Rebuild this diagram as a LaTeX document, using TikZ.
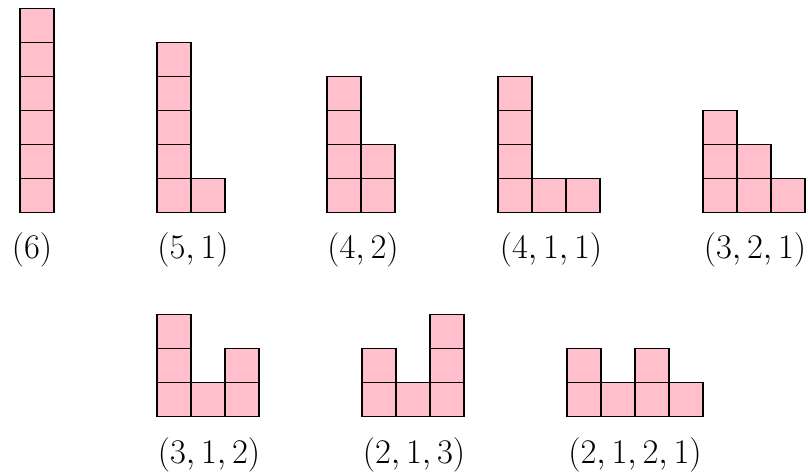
\documentclass[tikz,border=0pt]{standalone}
\definecolor{cellpink}{RGB}{255,192,203}
\begin{document}
\begin{tikzpicture}[x=0.5pt,y=-0.5pt,every node/.style={outer sep=0pt, font=\fontsize{17.28}{21}\selectfont},
  cell/.style={draw=black, line width=0.7pt, fill=cellpink, minimum size=17pt, inner sep=0pt},
  lbl/.style={anchor=base, inner sep=0pt}]
\useasboundingbox (0,0) rectangle (808,476);
% (6)
\node[cell] (a11) at (37,195.5) {};
\node[cell] (a12) at (37,161.5) {};
\node[cell] (a13) at (37,127.5) {};
\node[cell] (a14) at (37,93.5) {};
\node[cell] (a15) at (37,59.5) {};
\node[cell] (a16) at (37,25.5) {};
\node[lbl] (la) at (32,258) {$(6)$};
% (5,1)
\node[cell] (b11) at (174,195.5) {};
\node[cell] (b12) at (174,161.5) {};
\node[cell] (b13) at (174,127.5) {};
\node[cell] (b14) at (174,93.5) {};
\node[cell] (b15) at (174,59.5) {};
\node[cell] (b21) at (208,195.5) {};
\node[lbl] (lb) at (193,258) {$(5,1)$};
% (4,2)
\node[cell] (c11) at (344,195.5) {};
\node[cell] (c12) at (344,161.5) {};
\node[cell] (c13) at (344,127.5) {};
\node[cell] (c14) at (344,93.5) {};
\node[cell] (c21) at (378,195.5) {};
\node[cell] (c22) at (378,161.5) {};
\node[lbl] (lc) at (363,258) {$(4,2)$};
% (4,1,1)
\node[cell] (d11) at (515,195.5) {};
\node[cell] (d12) at (515,161.5) {};
\node[cell] (d13) at (515,127.5) {};
\node[cell] (d14) at (515,93.5) {};
\node[cell] (d21) at (549,195.5) {};
\node[cell] (d31) at (583,195.5) {};
\node[lbl] (ld) at (551,258) {$(4,1,1)$};
% (3,2,1)
\node[cell] (e11) at (720,195.5) {};
\node[cell] (e12) at (720,161.5) {};
\node[cell] (e13) at (720,127.5) {};
\node[cell] (e21) at (754,195.5) {};
\node[cell] (e22) at (754,161.5) {};
\node[cell] (e31) at (788,195.5) {};
\node[lbl] (le) at (755,258) {$(3,2,1)$};
% (3,1,2)
\node[cell] (f11) at (174,399.5) {};
\node[cell] (f12) at (174,365.5) {};
\node[cell] (f13) at (174,331.5) {};
\node[cell] (f21) at (208,399.5) {};
\node[cell] (f31) at (242,399.5) {};
\node[cell] (f32) at (242,365.5) {};
\node[lbl] (lf) at (209,463) {$(3,1,2)$};
% (2,1,3)
\node[cell] (g11) at (379,399.5) {};
\node[cell] (g12) at (379,365.5) {};
\node[cell] (g21) at (413,399.5) {};
\node[cell] (g31) at (447,399.5) {};
\node[cell] (g32) at (447,365.5) {};
\node[cell] (g33) at (447,331.5) {};
\node[lbl] (lg) at (414,463) {$(2,1,3)$};
% (2,1,2,1)
\node[cell] (h11) at (584,399.5) {};
\node[cell] (h12) at (584,365.5) {};
\node[cell] (h21) at (618,399.5) {};
\node[cell] (h31) at (652,399.5) {};
\node[cell] (h32) at (652,365.5) {};
\node[cell] (h41) at (686,399.5) {};
\node[lbl] (lh) at (635,463) {$(2,1,2,1)$};
\end{tikzpicture}
\end{document}
